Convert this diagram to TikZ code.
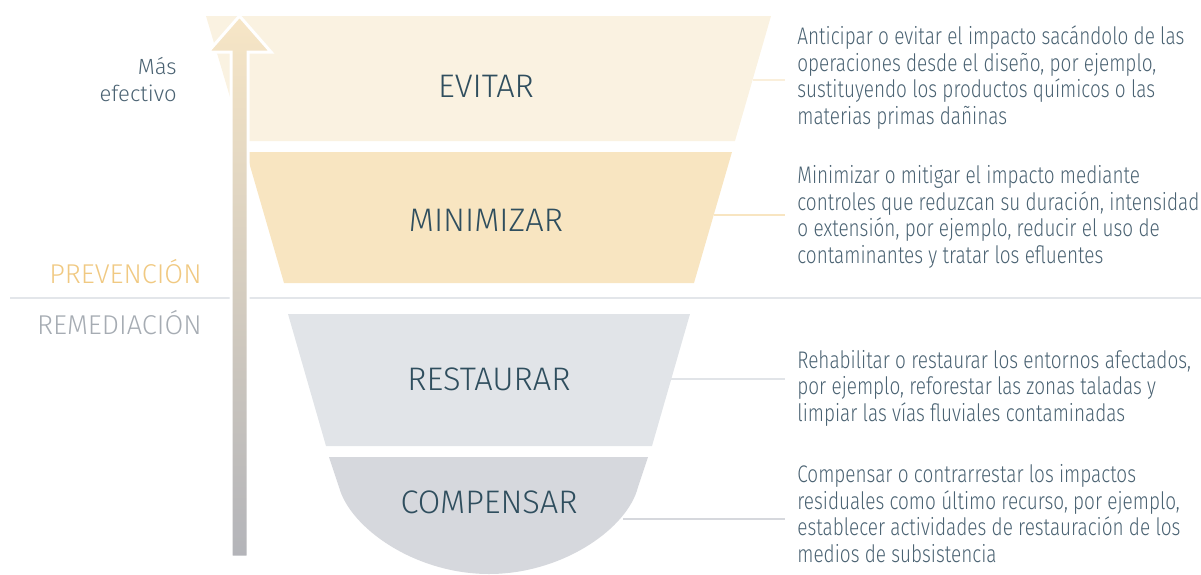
\documentclass[tikz,border=0pt]{standalone}
\usepackage{fontspec}
\IfFontExistsTF{Fira Sans Light}{%
  \setmainfont{Fira Sans Light}
  \newfontfamily\descfont{Fira Sans Light}[FakeStretch=0.79]
}{%
  \setmainfont{Open Sans}
  \newfontfamily\descfont{Open Sans}[FakeStretch=0.72]
}
\definecolor{evfill}{HTML}{FAF2E1}
\definecolor{mifill}{HTML}{F8E5C1}
\definecolor{refill}{HTML}{E1E4E8}
\definecolor{cofill}{HTML}{D6D8DD}
\definecolor{labtxt}{HTML}{2F4E5E}
\definecolor{desctxt}{HTML}{4A6272}
\definecolor{prevtxt}{HTML}{F0C982}
\definecolor{remtxt}{HTML}{A6ACB3}
\definecolor{sepline}{HTML}{E3E6EA}
\definecolor{arrtop}{HTML}{F7E6C6}
\definecolor{arrmid}{HTML}{DDD3C1}
\definecolor{arrbot}{HTML}{B3B4B9}
\begin{document}
\begin{tikzpicture}[x=0.5pt,y=-0.5pt,
  lab/.style={font=\fontsize{16.3}{19}\selectfont, text=labtxt, inner sep=0pt, anchor=base},
  desc/.style={font=\descfont\fontsize{12}{13.25}\selectfont, text=desctxt, align=left,
     anchor=base west, inner xsep=6pt, inner ysep=0pt},
  side/.style={font=\fontsize{13.6}{16}\selectfont, inner sep=0pt, anchor=base east},
  conn/.style={line width=1pt}
]
\useasboundingbox (0,0) rectangle (1201,574);
% separator
\draw[sepline, line width=1.3pt] (10,298) -- (1201,298);
% funnel bands
\fill[evfill] (206,16) -- (771,16) -- (735,141) -- (243,141) -- cycle;
\fill[mifill] (246,152) -- (732,152) -- (694,283) -- (284,283) -- cycle;
\fill[refill] (288,314) -- (690,314) -- (652,446) -- (326,446) -- cycle;
\fill[cofill] (329,457) -- (648,457) -- (638,487)
   .. controls (628,528) and (563,574) .. (489,574)
   .. controls (415,574) and (350,528) .. (339,487) -- cycle;
% arrow
\path[draw=white, line width=1.5pt, top color=arrtop, middle color=arrmid, bottom color=arrbot]
  (239.5,16) -- (271,52) -- (248,52) -- (248,557) -- (231,557) -- (231,52) -- (208,52) -- cycle;
% labels
\node[lab] (ev) at (486,97) {EVITAR};
\node[lab] (mi) at (486,231) {MINIMIZAR};
\node[lab] (re) at (489,390) {RESTAURAR};
\node[lab] (co) at (489,513) {COMPENSAR};
% side labels
\node[side, text=prevtxt] (prev) at (202,283) {PREVENCIÓN};
\node[side, text=remtxt] (rem) at (202,334) {REMEDIACIÓN};
\node[font=\fontsize{11}{13.4}\selectfont, text=desctxt, align=right, anchor=base east, inner sep=0pt] (mas) at (177,101) {Más\\efectivo};
% descriptions (anchored at baseline of last line)
\node[desc] (evD) at (785,124) {Anticipar o evitar el impacto sacándolo de las\\operaciones desde el diseño, por ejemplo,\\sustituyendo los productos químicos o las\\materias primas dañinas};
\node[desc] (miD) at (785,263) {Minimizar o mitigar el impacto mediante\\controles que reduzcan su duración, intensidad\\o extensión, por ejemplo, reducir el uso de\\contaminantes y tratar los efluentes};
\node[desc] (reD) at (785,421) {Rehabilitar o restaurar los entornos afectados,\\por ejemplo, reforestar las zonas taladas y\\limpiar las vías fluviales contaminadas};
\node[desc] (coD) at (785,562) {Compensar o contrarrestar los impactos\\residuales como último recurso, por ejemplo,\\establecer actividades de restauración de los\\medios de subsistencia};
% connector anchors
\coordinate (evR) at (752.6,80);
\coordinate (miR) at (713.7,215);
\coordinate (reR) at (671.3,379);
\coordinate (coR) at (623,519);
\draw[conn, evfill!80!mifill] (evR) -- (evD.west |- evR);
\draw[conn, mifill] (miR) -- (miD.west |- miR);
\draw[conn, refill] (reR) -- (reD.west |- reR);
\draw[conn, cofill] (coR) -- (coD.west |- coR);
\end{tikzpicture}
\end{document}
